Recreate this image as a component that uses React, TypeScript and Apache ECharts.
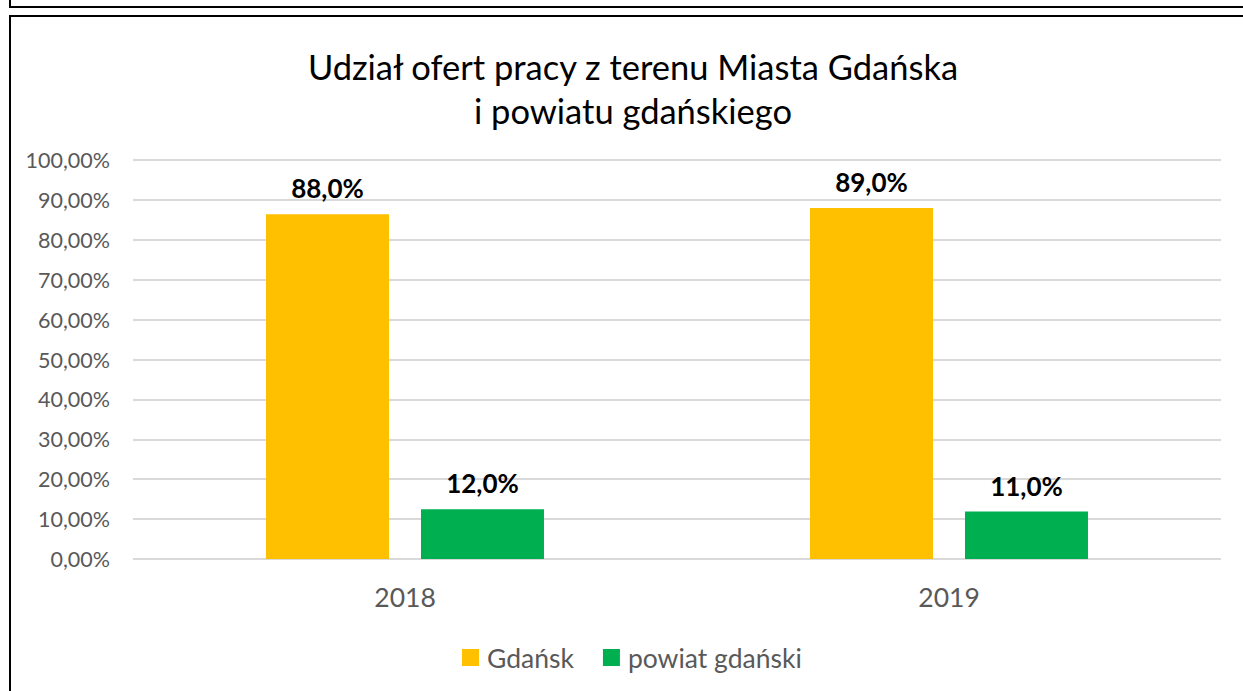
import React, { useEffect, useRef } from "react";
import * as echarts from "echarts";

const categories = ["2018", "2019"];
const seriesNames = ["Gdańsk", "powiat gdański"];
const gdanskValues = [86.4, 88.0];
const powiatValues = [12.5, 11.9];
const gdanskLabels = ["88,0%", "89,0%"];
const powiatLabels = ["12,0%", "11,0%"];
const colors = ["#FFC000", "#00B050"];
const titleLines = ["Udział ofert pracy z terenu Miasta Gdańska", "i powiatu gdańskiego"];

const FONT = "Lato, 'Open Sans', sans-serif";

export default function App() {
  const ref = useRef<HTMLDivElement>(null);
  useEffect(() => {
    if (!ref.current) return;
    const chart = echarts.init(ref.current, null, { renderer: "svg" });
    const labelFor = (arr: string[]) => ({
      show: true,
      position: "top",
      distance: 13,
      fontFamily: FONT,
      fontSize: 26,
      fontWeight: "bold",
      color: "#000",
      formatter: (p: any) => arr[p.dataIndex],
    });
    chart.setOption({
      animation: false,
      backgroundColor: "#fff",
      textStyle: { fontFamily: FONT },
      title: {
        text: titleLines.join("\n"),
        left: 628,
        top: 39,
        textAlign: "center",
        textStyle: { fontFamily: FONT, fontSize: 34.5, fontWeight: "normal", color: "#000", lineHeight: 44 },
      },
      graphic: [
        { type: "rect", shape: { x: 10, y: -20, width: 1260, height: 27 }, style: { fill: "none", stroke: "#000", lineWidth: 2 } },
        { type: "rect", shape: { x: 10, y: 16, width: 1260, height: 720 }, style: { fill: "none", stroke: "#000", lineWidth: 2 } },
      ],
      legend: {
        data: seriesNames,
        bottom: 15,
        left: 457,
        itemWidth: 17,
        itemHeight: 17,
        itemGap: 29,
        icon: "rect",
        textStyle: { fontFamily: FONT, fontSize: 26.5, color: "#595959", padding: [0, 0, 0, 3] },
      },
      grid: { left: 133, right: 22, top: 160, bottom: 132, containLabel: false },
      xAxis: {
        type: "category",
        data: categories,
        axisLine: { show: false },
        axisTick: { show: false },
        axisLabel: { fontFamily: FONT, fontSize: 26.5, color: "#595959", margin: 24 },
      },
      yAxis: {
        type: "value",
        min: 0,
        max: 100,
        interval: 10,
        axisLabel: {
          fontFamily: FONT,
          fontSize: 21.5,
          color: "#595959",
          margin: 23,
          formatter: (v: number) => v.toFixed(2).replace(".", ",") + "%",
        },
        splitLine: { lineStyle: { color: "#D9D9D9", width: 2 } },
        axisLine: { show: false },
        axisTick: { show: false },
      },
      series: [
        {
          name: seriesNames[0],
          type: "bar",
          data: gdanskValues,
          barWidth: 123,
          barGap: "26%",
          itemStyle: { color: colors[0] },
          label: labelFor(gdanskLabels),
        },
        {
          name: seriesNames[1],
          type: "bar",
          data: powiatValues,
          barWidth: 123,
          barGap: "26%",
          itemStyle: { color: colors[1] },
          label: labelFor(powiatLabels),
        },
      ],
    });
    return () => chart.dispose();
  }, []);
  return (
    <div
      ref={ref}
      style={{ position: "fixed", left: 0, top: 0, width: 1243, height: 691, background: "#fff" }}
    />
  );
}
